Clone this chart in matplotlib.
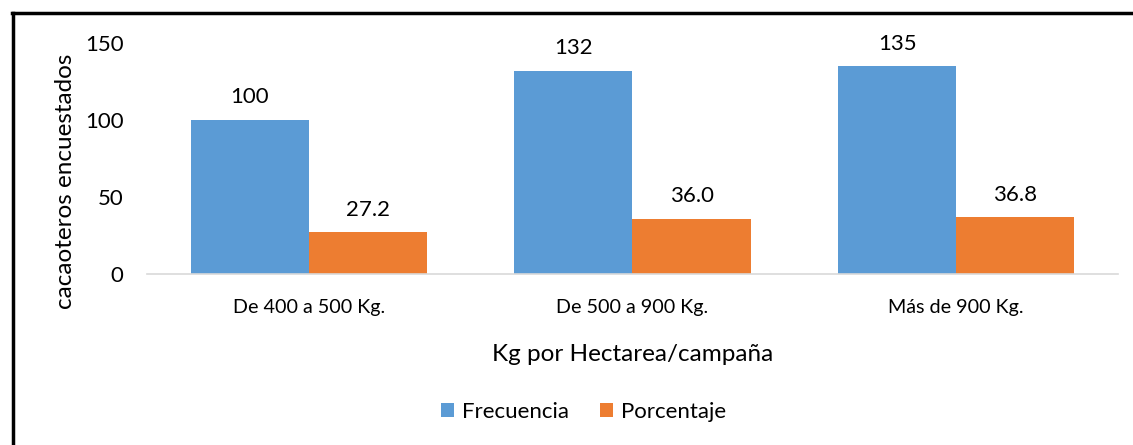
import numpy as np
import matplotlib.pyplot as plt
from matplotlib.lines import Line2D

categories = ["De 400 a 500 Kg.", "De 500 a 900 Kg.", "Más de 900 Kg."]
frecuencia = [100, 132, 135]
porcentaje = [27.2, 36.0, 36.8]
series_names = ["Frecuencia", "Porcentaje"]
colors = ["#5B9BD5", "#ED7D31"]

plt.rcParams["font.family"] = ["Lato", "DejaVu Sans"]

fig = plt.figure(figsize=(11.33, 4.45), dpi=100)
ax = fig.add_axes([0.1297, 0.3843, 0.8571, 0.5191])

x = np.arange(len(categories))
w = 0.365
b1 = ax.bar(x - w / 2, frecuencia, w, color=colors[0], label=series_names[0])
b2 = ax.bar(x + w / 2, porcentaje, w, color=colors[1], label=series_names[1])

for bars, vals, fmt in [(b1, frecuencia, "{:.0f}"), (b2, porcentaje, "{:.1f}")]:
    for rect, v in zip(bars, vals):
        ax.annotate(fmt.format(v), (rect.get_x() + rect.get_width() / 2, v),
                    xytext=(0, 9), textcoords="offset points",
                    ha="center", va="bottom", fontsize=16, color="#000000")

ax.set_xlim(-0.5, 2.5)
ax.set_ylim(0, 150)
ax.set_yticks([0, 50, 100, 150])
ax.set_xticks(x)
ax.set_xticklabels(categories)
ax.tick_params(axis="both", length=0, colors="#000000")
ax.tick_params(axis="x", pad=18, labelsize=14.2)
ax.tick_params(axis="y", pad=17, labelsize=16)
for s in ["top", "right", "left"]:
    ax.spines[s].set_visible(False)
ax.spines["bottom"].set_color("#D9D9D9")
ax.spines["bottom"].set_linewidth(1.2)

ax.set_xlabel("Kg por Hectarea/campaña", fontsize=17.5, labelpad=20)
fig.text(0.058, 0.593, "cacaoteros encuestados", rotation=90, fontsize=17.5,
         ha="center", va="center")

ax.legend(loc="center", bbox_to_anchor=(0.515, 0.074), bbox_transform=fig.transFigure,
          ncol=2, frameon=False, fontsize=16, handlelength=0.6, handleheight=0.6,
          columnspacing=1.4, handletextpad=0.35)

# outer frame: left and top edges only
fig.add_artist(Line2D([0.0115, 0.0115], [0, 0.971], color="black", lw=2.5,
                      transform=fig.transFigure))
fig.add_artist(Line2D([0.0105, 1.0], [0.971, 0.971], color="black", lw=2.5,
                      transform=fig.transFigure))

fig.savefig("out.png", dpi=100)
